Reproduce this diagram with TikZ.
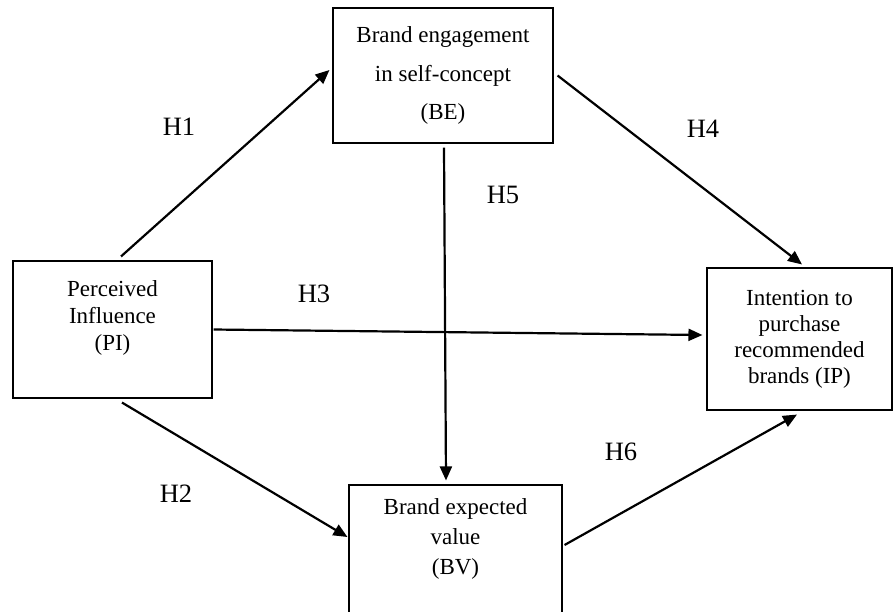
\documentclass[tikz,border=0pt]{standalone}
\usepackage{fontspec}
\setmainfont{Liberation Serif}
\usetikzlibrary{arrows.meta, positioning}

\begin{document}
\begin{tikzpicture}[x=1pt, y=-1pt,
        box/.style={draw, rectangle, line width=1.1pt, align=center, inner sep=0pt, font=\fontsize{23}{27}\selectfont},
        hyp/.style={inner sep=0pt, font=\fontsize{26.5}{30}\selectfont},
        link/.style={-{Triangle[length=14pt,width=12pt]}, line width=2.2pt}]
        \useasboundingbox (0,0) rectangle (894,611);
        \clip (0,0) rectangle (894,611);
        \node[box, minimum width=199pt, minimum height=137pt] (pi) at (112.5,329.5) {Perceived\\Influence\\(PI)\\ \mbox{}};
        \node[box, minimum width=220pt, minimum height=135pt, font=\fontsize{23}{38.5}\selectfont] (be) at (443,75.5) {Brand engagement\\in self-concept\\(BE)};
        \node[box, minimum width=185pt, minimum height=142pt, font=\fontsize{23}{26}\selectfont] (ip) at (799.5,339) {Intention to\\purchase\\recommended\\brands (IP)};
        \node[box, minimum width=213pt, minimum height=134pt, font=\fontsize{23}{30}\selectfont] (bv) at (455.5,552) {Brand expected\\value\\(BV)\\ \mbox{}};
        \node[hyp] (h1) at (179,127) {H1};
        \node[hyp] (h2) at (176,494) {H2};
        \node[hyp] (h3) at (314,294) {H3};
        \node[hyp] (h4) at (703,129) {H4};
        \node[hyp] (h5) at (503,195) {H5};
        \node[hyp] (h6) at (621,452) {H6};
        \path[link]
        ([xshift=8.5pt,yshift=4pt]pi.north) edge ([xshift=-3pt,yshift=5.5pt]be.west)
        ([xshift=9.5pt,yshift=-4pt]pi.south) edge ([xshift=-1pt,yshift=15pt]bv.west)
        ([xshift=1pt]pi.east) edge ([xshift=-4pt,yshift=4pt]ip.west)
        ([xshift=4pt]be.east) edge ([xshift=2.5pt,yshift=3pt]ip.north)
        ([xshift=1pt,yshift=-4pt]be.south) edge ([xshift=-9.5pt,yshift=4pt]bv.north)
        ([xshift=2pt,yshift=7pt]bv.east) edge ([xshift=-2.5pt,yshift=-4pt]ip.south);
\end{tikzpicture}
\end{document}
